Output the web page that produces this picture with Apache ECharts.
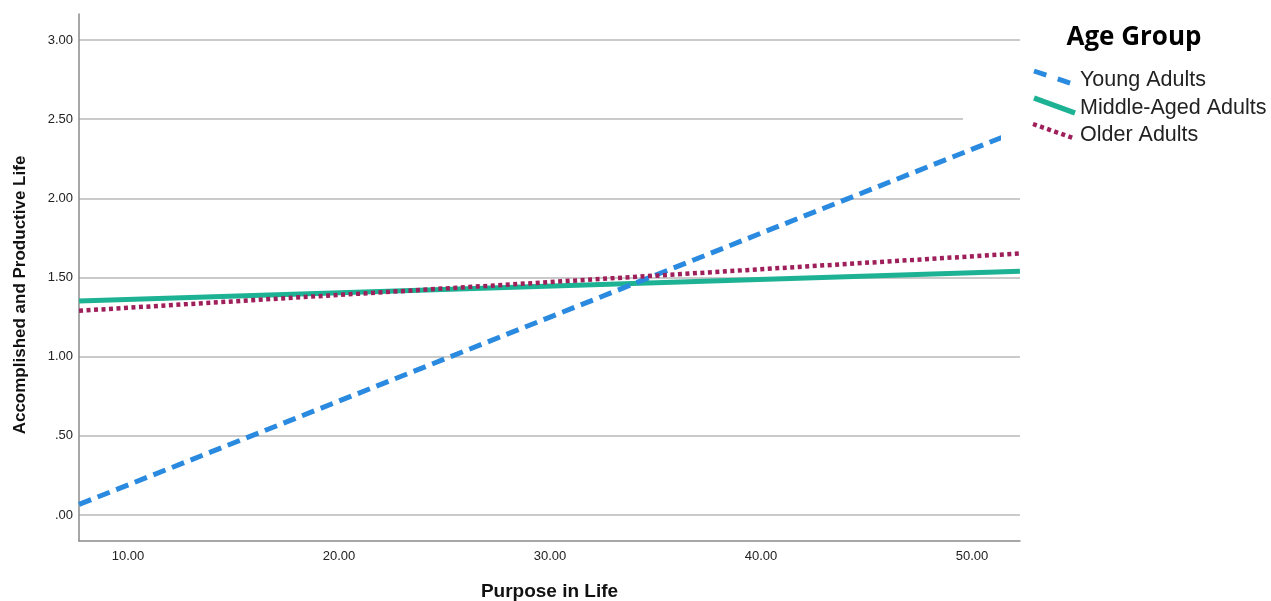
<!DOCTYPE html>
<html>
<head>
<meta charset="utf-8">
<script src="https://cdn.jsdelivr.net/npm/echarts@6/dist/echarts.min.js"></script>
<style>
html,body{margin:0;padding:0;background:#fff;overflow:hidden;}
#chart{position:absolute;left:0;top:0;width:1271px;height:601px;}
</style>
</head>
<body>
<div id="chart"></div>
<script>
// ---- data ----
const purposeX = [7.68, 52.27];
const youngAdults = [0.067, 2.43];
const middleAgedAdults = [1.351, 1.540];
const olderAdults = [1.290, 1.652];
const seriesNames = ['Young Adults', 'Middle-Aged Adults', 'Older Adults'];
const xTicks = [10, 20, 30, 40, 50];
const yTicks = [0, 0.5, 1.0, 1.5, 2.0, 2.5, 3.0];
const legendTitle = 'Age Group';
const xTitle = 'Purpose in Life';
const yTitle = 'Accomplished and Productive Life';

const colors = ['#2a8ae0', '#1db294', '#9e1f5a'];

function pairs(ys) { return purposeX.map((x, i) => [x, ys[i]]); }

const chart = echarts.init(document.getElementById('chart'));
const fmtY = v => { const s = v.toFixed(2); return s.startsWith('0') ? s.slice(1) : s; };

chart.setOption({
  animation: false,
  backgroundColor: '#fff',
  grid: { left: 79, width: 941, top: 14, height: 527, containLabel: false, outerBoundsMode: 'none' },
  xAxis: {
    type: 'value', min: 7.678, max: 52.275,
    name: xTitle, nameLocation: 'middle', nameGap: 41,
    nameTextStyle: { fontFamily: 'Liberation Sans', fontWeight: 'bold', fontSize: 19, color: '#111' },
    axisLine: { show: true, onZero: false, lineStyle: { color: '#8a8a8a', width: 1.5 } },
    axisTick: { show: false, customValues: xTicks },
    axisLabel: { customValues: xTicks, formatter: v => v.toFixed(2), fontFamily: 'Liberation Sans', fontSize: 13, color: '#222', margin: 9 },
    splitLine: { show: false }
  },
  yAxis: {
    type: 'value', min: -0.164, max: 3.164,
    axisLine: { show: true, onZero: false, lineStyle: { color: '#8a8a8a', width: 1.5 } },
    axisTick: { show: false, customValues: yTicks },
    axisLabel: { customValues: yTicks, formatter: fmtY, fontFamily: 'Liberation Sans', fontSize: 13, color: '#222', margin: 6 },
    splitLine: { show: true, lineStyle: { color: '#b8b8b8', width: 1.5 } }
  },
  series: [
    { name: seriesNames[0], type: 'line', data: pairs(youngAdults), symbol: 'none', z: 4,
      lineStyle: { color: colors[0], width: 5, type: [13, 7] } },
    { name: seriesNames[1], type: 'line', data: pairs(middleAgedAdults), symbol: 'none', z: 3,
      lineStyle: { color: colors[1], width: 5, type: 'solid' } },
    { name: seriesNames[2], type: 'line', data: pairs(olderAdults), symbol: 'none', z: 5,
      lineStyle: { color: colors[2], width: 4.5, type: [4, 3.5] } }
  ],
  graphic: [
    // white patches of the legend box covering part of the plot
    { type: 'rect', z: 50, shape: { x: 963, y: 60, width: 62, height: 67 }, style: { fill: '#fff' } },
    { type: 'rect', z: 50, shape: { x: 1001, y: 127, width: 24, height: 21 }, style: { fill: '#fff' } },
    // y axis title
    { type: 'text', z: 60, x: 20, y: 295, rotation: Math.PI / 2,
      style: { text: yTitle, fontFamily: 'Liberation Sans', fontWeight: 'bold', fontSize: 17, fill: '#111', textAlign: 'center', textVerticalAlign: 'middle' } },
    // legend
    { type: 'text', z: 60, x: 1134, y: 38,
      style: { text: legendTitle, fontFamily: 'Open Sans', fontWeight: 'bold', fontSize: 26, fill: '#000', textAlign: 'center', textVerticalAlign: 'middle' } },
    { type: 'line', z: 60, shape: { x1: 1034, y1: 71, x2: 1073, y2: 84 },
      style: { stroke: colors[0], lineWidth: 5, lineDash: [13, 12] } },
    { type: 'line', z: 60, shape: { x1: 1034, y1: 98, x2: 1075, y2: 113 },
      style: { stroke: colors[1], lineWidth: 5.5 } },
    { type: 'line', z: 60, shape: { x1: 1033, y1: 124, x2: 1073, y2: 138 },
      style: { stroke: colors[2], lineWidth: 4.5, lineDash: [4, 3.5] } },
    { type: 'text', z: 60, x: 1080, y: 80,
      style: { text: seriesNames[0], fontFamily: 'Liberation Sans', fontSize: 21.5, fill: '#222', textVerticalAlign: 'middle' } },
    { type: 'text', z: 60, x: 1080, y: 108,
      style: { text: seriesNames[1], fontFamily: 'Liberation Sans', fontSize: 21.5, fill: '#222', textVerticalAlign: 'middle' } },
    { type: 'text', z: 60, x: 1080, y: 135,
      style: { text: seriesNames[2], fontFamily: 'Liberation Sans', fontSize: 21.5, fill: '#222', textVerticalAlign: 'middle' } }
  ]
});
</script>
</body>
</html>
